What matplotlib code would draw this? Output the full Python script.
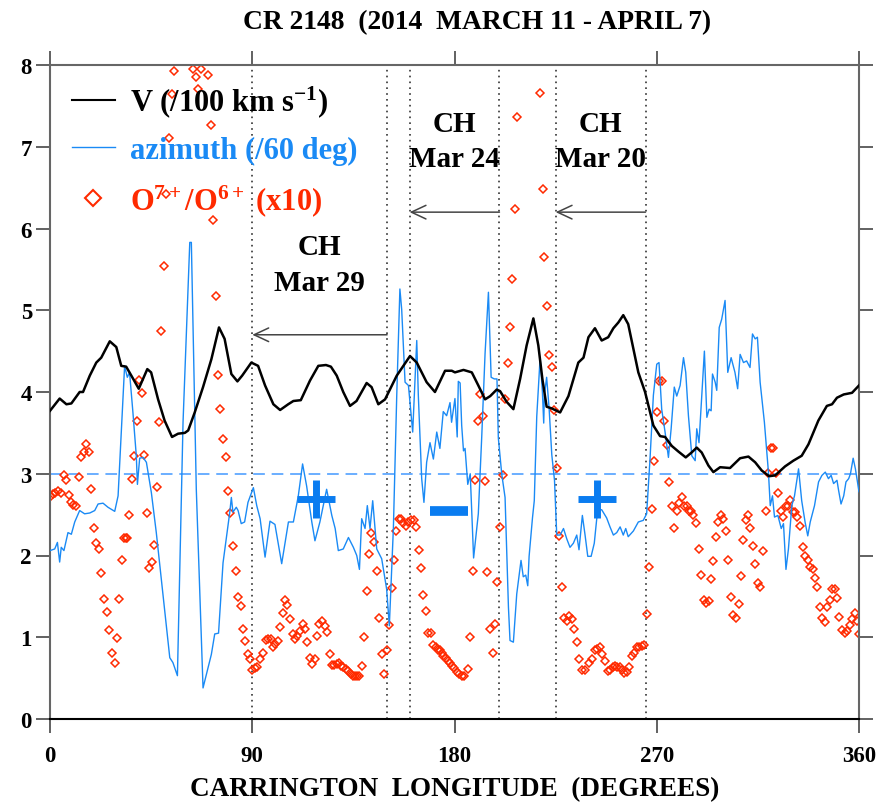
import matplotlib
matplotlib.use("Agg")
import matplotlib.pyplot as plt
from matplotlib.lines import Line2D

plt.rcParams['font.family'] = ['Liberation Serif', 'DejaVu Serif']
plt.rcParams['font.weight'] = 'bold'
plt.rcParams['axes.labelweight'] = 'bold'
plt.rcParams['mathtext.fontset'] = 'custom'
plt.rcParams['mathtext.rm'] = 'Liberation Serif:bold'
plt.rcParams['mathtext.it'] = 'Liberation Serif:bold'
plt.rcParams['mathtext.bf'] = 'Liberation Serif:bold'

# solar wind speed (/100 km/s)
v_lon = [0, 4.3, 7.3, 9.5, 13.2, 14.7, 17.7, 20.6, 22.8, 26.6, 29.5, 31.7, 33.9, 36.2, 39.5, 41.4,
         43.3, 45, 48.1, 51, 54.3, 57, 60, 61.5, 64.4, 68.1, 71.8, 75.2, 77.7, 80.7, 83.4, 85.5,
         89.6, 92.6, 95.7, 99.4, 102.4, 106, 108.3, 111.6, 115.7, 119.4, 122.8, 125, 127.6, 130.5,
         133.5, 136.4, 140.9, 143.1, 146.1, 149.1, 154.3, 160.2, 163.2, 167.6, 171.3, 175.8, 178.8,
         180.2, 184, 187.7, 190.6, 193.6, 195.9, 198.8, 200.3, 203.2, 206.2, 209.2, 212.1, 215.1,
         217.3, 219.1, 221, 223.2, 227, 230.7, 235.1, 237.4, 239.6, 242.5, 245.5, 248.4, 250.7,
         252.9, 255.1, 257.3, 261.8, 264.8, 268.5, 271.5, 273.7, 276.7, 279.7, 282.9, 285.5, 287.8,
         290, 293, 295.2, 298.2, 302.6, 307.1, 310.8, 313.8, 316.7, 320, 322.7, 327.1, 330.8, 334.5,
         337.5, 341.9, 345.7, 348, 350.2, 353.2, 356.9, 360]
v_val = [3.77, 3.92, 3.85, 3.86, 4.0, 4.0, 4.2, 4.36, 4.42, 4.62, 4.55, 4.32, 4.31, 4.2, 4.04, 4.16,
         4.28, 4.24, 3.91, 3.65, 3.45, 3.49, 3.50, 3.53, 3.75, 4.06, 4.40, 4.79, 4.65, 4.22, 4.13, 4.2,
         4.36, 4.32, 4.08, 3.85, 3.78, 3.85, 3.89, 3.90, 4.14, 4.32, 4.33, 4.31, 4.2, 4.0,
         3.83, 3.89, 4.11, 4.06, 3.85, 3.91, 4.2, 4.44, 4.36, 4.12, 4.0, 4.26, 4.26,
         4.24, 4.27, 4.24, 4.08, 3.91, 3.95, 4.03, 4.01, 3.88, 3.79, 4.16, 4.57, 4.90,
         4.57, 4.16, 3.82, 3.80, 3.75, 3.95, 4.36, 4.42, 4.67, 4.78, 4.63, 4.67, 4.78,
         4.85, 4.94, 4.83, 4.24, 4.0, 3.59, 3.46, 3.45, 3.34, 3.27, 3.20, 3.26, 3.32,
         3.26, 3.10, 3.02, 3.08, 3.07, 3.19, 3.21, 3.14, 3.04, 2.97, 2.98, 3.09, 3.16, 3.22,
         3.36, 3.65, 3.83, 3.85, 3.93, 3.97, 3.99, 4.08]

# magnetic field azimuth (/60 deg)
az_lon = [0, 2.1, 3.3, 4.3, 5.0, 6.2, 8.0, 9.5, 11, 13.2, 15.4, 17.7, 19.9, 21.4, 23.6, 25.8, 28.8,
          30.3, 33.2, 34.4, 35.4, 36.9, 38.4, 38.9, 39.9, 41.4, 42.9, 45.1, 47.3, 50.3, 53.3, 54.7,
          56.7, 59.2, 62.2, 62.9, 65.1, 68.1, 71.8, 73.3, 75, 77, 80, 80.7, 81.4, 82.9, 83.7, 85.1,
          86.6, 88.1, 90.5, 92, 93.5, 95.7, 97.9, 100.1, 103.1, 106.1, 108.3, 110.5, 112.4, 114.2,
          116.5, 117.9, 120.1, 123.1, 125.4, 126.9, 128.3, 130.5, 132.8, 135, 136.5, 137.7, 138.7,
          140.2, 141.2, 142.4, 143.6, 145.4, 147.6, 149.8, 151, 152.8, 154.3, 155.7, 156.5, 158,
          159.5, 161.4, 163.2, 163.9, 165.4, 166.4, 167.6, 169.1, 170.6, 172.1, 173.5, 175, 176.5,
          178, 178.7, 180.2, 181.2, 181.7, 182.5, 183.2, 184, 184.7, 185.9, 187, 188.5, 189.6,
          190.6, 192.1, 193.6, 195.1, 196.3, 197.7, 198.9, 199.5, 201, 202.5, 204, 204.7, 206.2,
          207.7, 209.6, 210.6, 211.7, 212.6, 213.2, 214.7, 215.5, 216.6, 218.1, 219.1, 219.7, 220,
          221, 222.1, 223.3, 224.5, 225.5, 227, 228.5, 230, 231.4, 232.9, 234.4, 235.4, 236.9,
          238.1, 239.3, 240.8, 242.2, 243.7, 245.5, 247.7, 249.2, 250.7, 252.2, 253.7, 255.1,
          256.2, 257.3, 259.6, 261.8, 264, 265.5, 267, 268.5, 270, 271, 272.2, 273.7, 275.2,
          276.4, 277.8, 278.9, 280.4, 281.9, 282.9, 284.1, 285.6, 287.1, 287.8, 288.8, 290, 291.2,
          292.3, 293.3, 294.2, 294.8, 296, 296.7, 297.8, 298.9, 300.4, 301.6, 303.1, 304.8, 306,
          307.1, 308.6, 310, 311.5, 312.6, 313.8, 314.8, 316, 317.9, 319.7, 320.5, 321.5, 322.4,
          323.9, 325.4, 326.4, 327.5, 328.6, 330.1, 331.3, 333.1, 334.5, 336, 337.2, 338.3, 340.2,
          342, 343.5, 345, 346.4, 347.6, 348.7, 350.2, 350.9, 352, 353.2, 354.2, 355.4, 356.2,
          357.4, 358.4, 360]
az_val = [2.06, 2.08, 2.16, 1.92, 2.10, 2.06, 2.28, 2.26, 2.41, 2.55, 2.51, 2.52, 2.55, 2.63, 2.64, 2.59, 2.54,
          2.73, 4.32, 4.18, 4.24, 3.75, 3.22, 2.87, 3.19, 3.20, 3.14, 2.77, 2.28, 1.51, 0.75, 0.69,
          0.53, 3.63, 5.83, 5.83, 2.81, 0.38, 0.79, 1.04, 1.05, 1.91, 2.53, 2.71, 2.53, 2.59, 2.55, 2.39,
          2.41, 2.65, 2.83, 2.61, 2.45, 1.98, 2.42, 2.38, 1.90, 2.41, 2.41, 2.73, 3.12, 2.85,
          2.41, 2.18, 2.41, 2.81, 2.49, 2.33, 2.06, 2.08, 2.22, 2.10, 2.00, 1.83, 2.45,
          2.33, 2.61, 2.33, 2.67, 2.08, 1.96, 1.59, 1.14, 2.33, 3.96, 5.26, 5.01, 4.12,
          4.08, 3.51, 4.63, 3.96, 2.94, 2.65, 3.14, 3.38, 3.18, 3.51, 3.31, 3.76, 3.71,
          3.87, 3.63, 3.92, 3.45, 4.13, 4.11, 3.59, 3.28, 3.31, 2.87, 3.0, 1.97, 2.25,
          2.51, 3.44, 4.47, 5.22, 4.18, 4.16, 4.16, 3.44, 3.0, 2.71, 1.37, 0.96, 0.94,
          1.53, 1.94, 1.74, 1.76, 1.63, 1.99, 2.46, 2.67, 3.70, 4.42, 4.01, 3.62, 3.96,
          4.18, 3.80, 3.23, 2.92, 2.25, 2.25, 2.33, 2.20, 2.10, 2.15, 2.25, 2.07, 2.49,
          2.25, 1.99, 1.99, 2.15, 2.56, 2.56, 2.46, 2.35, 2.25, 2.28, 2.35, 2.25,
          2.33, 2.23, 2.30, 2.41, 2.43, 2.51, 3.18, 3.96, 4.34, 4.36, 3.79, 3.51, 3.20,
          3.55, 4.06, 3.95, 4.08, 4.42, 4.24, 3.71, 3.22, 3.16, 3.55, 3.38, 3.95, 4.50,
          3.69, 3.79, 3.77, 4.22, 4.12, 4.02, 4.79, 4.89, 5.12, 4.24, 4.42, 4.24, 4.04,
          4.46, 4.36, 4.38, 4.30, 4.71, 4.65, 4.67, 4.12, 3.63, 3.02, 2.61, 2.73, 2.47,
          2.49, 2.33, 2.39, 1.83, 2.08, 2.61, 2.73, 3.06, 2.67, 2.41, 2.24, 2.41, 2.61,
          2.90, 2.98, 3.02, 2.94, 2.98, 2.88, 2.92, 2.80, 2.63, 2.73, 2.90, 2.94, 3.00,
          3.19, 3.06, 2.78]

# O7+/O6+ ratio (x10)
o_lon = [0.3, 1.3, 2.4, 3.6, 5.0, 6.2, 7.3, 8.3, 9.5, 10.2, 11.7, 12.8, 14.0, 15.0, 16.2, 17.2, 18.4,
         19.4, 20.6, 21.7, 22.8, 24.0, 25.2, 26.4, 27.6, 28.8, 29.8, 30.9, 32.0, 32.9, 34.0, 34.4,
         35.3, 36.5, 37.5, 38.6, 39.8, 40.9, 42.0, 43.0, 44.1, 45.2, 46.3, 47.5, 48.5, 49.6, 50.6,
         51.5, 52.9, 54.1, 55.2, 63.8, 65.0, 66.0, 67.2, 70.5, 71.5, 72.7, 73.7, 74.8, 75.8, 77.1,
         78.2, 79.2, 80.3, 81.6, 82.6, 83.7, 84.9, 85.9, 86.9, 88.0, 89.0, 89.9, 91.1, 92.3, 93.6,
         94.7, 95.9, 97.1, 98.2, 99.4, 100.2, 101.3, 102.4, 103.5, 104.6, 105.6, 106.8, 108.0,
         109.0, 110.1, 111.3, 112.5, 113.5, 114.5, 115.7, 116.7, 117.8, 119.0, 119.9, 121.2,
         122.2, 123.4, 124.6, 125.4, 126.5, 127.6, 128.6, 129.5, 130.5, 131.6, 132.8, 133.8,
         134.7, 135.7, 136.8, 137.7, 138.7, 139.7, 140.9, 142.0, 143.0, 144.0, 145.4, 146.4,
         147.6, 148.6, 149.8, 150.9, 152.1, 153.1, 154.1, 155.3, 156.1, 157.2, 158.4, 159.5,
         160.7, 161.9, 162.9, 164.1, 165.1, 166.1, 167.2, 168.4, 169.4, 170.6, 171.6, 172.5,
         173.6, 174.3, 175.0, 176.1, 177.0, 178.0, 178.9, 179.8, 181.0, 182.0, 183.2, 184.4,
         185.9, 186.9, 188.1, 189.3, 190.3, 191.5, 192.6, 193.6, 194.6, 195.8, 197.0, 198.0,
         199.1, 200.3, 201.5, 202.5, 203.7, 204.7, 205.7, 206.9, 208.0, 218.1, 219.2, 220.0,
         221.2, 222.2, 223.3, 224.3, 225.5, 226.5, 227.7, 228.8, 229.9, 231.1, 232.2, 233.2,
         234.4, 235.6, 236.6, 238.1, 239.9, 241.1, 242.5, 243.6, 244.8, 245.8, 247.0, 248.2,
         249.2, 250.4, 251.4, 252.5, 253.7, 254.7, 255.6, 256.6, 257.7, 258.9, 259.9, 261.1,
         262.2, 263.3, 264.3, 265.5, 266.7, 267.7, 268.9, 269.9, 271.0, 272.2, 273.4, 274.4,
         275.6, 276.6, 277.7, 278.9, 279.9, 281.1, 282.2, 283.3, 284.4, 285.3, 286.3, 287.5,
         288.7, 289.9, 290.9, 292.0, 293.1, 294.2, 295.2, 296.4, 297.4, 298.6, 299.6, 300.7,
         301.9, 303.1, 304.1, 305.2, 306.4, 307.4, 308.4, 309.5, 310.7, 311.7, 312.9, 313.9,
         315.0, 316.1, 317.2, 318.5, 319.7, 320.7, 321.9, 322.9, 324.0, 325.2, 326.2, 327.3,
         328.3, 329.5, 330.5, 331.6, 332.6, 333.8, 335.0, 336.0, 337.1, 338.2, 339.4, 340.4,
         341.5, 342.7, 343.7, 344.9, 345.9, 347.1, 348.2, 349.2, 350.3, 351.3, 352.5, 353.6,
         354.8, 355.8, 357.0, 358.2, 359.2, 360.0]
o_val = [2.73, 2.75, 2.77, 2.79, 2.77, 2.98, 2.92, 2.74, 2.66, 2.62, 2.60, 2.96, 3.20, 3.26, 3.37, 3.26, 2.81,
         2.34, 2.15, 2.08, 1.78, 1.47, 1.31, 1.09, 0.81, 0.68, 0.99, 1.47, 1.94, 2.22, 2.22, 2.22,
         2.50, 2.93, 3.22, 3.64, 4.15, 3.99, 3.23, 2.52, 1.85, 1.92, 2.13, 2.84, 3.63, 4.75, 5.54,
         6.42, 7.11, 7.64, 7.93, 7.95, 7.85, 7.71, 7.95, 7.88, 7.26, 6.10, 5.18, 4.21, 3.79, 3.42,
         3.20, 2.79, 2.52, 2.12, 1.81, 1.49, 1.38, 1.10, 0.95, 0.80, 0.73, 0.60, 0.62, 0.64, 0.73,
         0.81, 0.97, 0.98, 0.98, 0.88, 0.92, 0.96, 1.12, 1.30, 1.46, 1.40, 1.22, 1.04,
         0.98, 1.01, 1.08, 1.16, 1.10, 0.94, 0.75, 0.67, 0.73, 1.02, 1.16, 1.20,
         1.14, 1.06, 0.80, 0.66, 0.66, 0.67, 0.69, 0.65, 0.63, 0.61, 0.59, 0.55,
         0.52, 0.52, 0.52, 0.52, 0.65, 1.00, 1.57, 2.02, 2.28, 2.16, 1.81, 1.24,
         0.80, 0.55, 0.84, 1.15, 1.60, 1.94, 2.30, 2.45, 2.45, 2.40, 2.36, 2.41,
         2.43, 2.43, 2.35, 2.07, 1.85, 1.52, 1.32, 1.05, 1.05, 0.91, 0.88, 0.84,
         0.84, 0.81, 0.77, 0.75, 0.71, 0.68, 0.65, 0.62, 0.58, 0.55, 0.52, 0.52,
         0.61, 1.00, 1.81, 2.92, 3.65, 3.97, 3.71, 2.91, 1.80, 1.10, 0.81, 1.16,
         1.68, 2.35, 2.98, 3.92, 4.36, 4.80, 5.38, 6.24, 7.37, 7.66, 6.48, 5.65,
         5.05, 4.45, 4.30, 3.78, 3.07, 2.24, 1.61, 1.23, 1.20, 1.26, 1.22, 1.10,
         0.94, 0.74, 0.60, 0.60, 0.69, 0.74, 0.85, 0.86, 0.88, 0.79, 0.71, 0.59,
         0.60, 0.64, 0.65, 0.64, 0.64, 0.60, 0.56, 0.58, 0.63, 0.77, 0.81, 0.88,
         0.88, 0.89, 0.90, 1.28, 1.86, 2.57, 3.15, 3.76, 4.13, 4.13, 3.65, 3.35,
         2.90, 2.60, 2.34, 2.54, 2.64, 2.71, 2.60, 2.60, 2.55, 2.54, 2.50, 2.40,
         2.08, 1.76, 1.46, 1.42, 1.44, 1.71, 1.93, 2.23, 2.41, 2.50, 2.45, 2.30,
         1.95, 1.49, 1.27, 1.23, 1.41, 1.75, 2.19, 2.44, 2.50, 2.34, 2.12, 1.90,
         1.66, 1.62, 2.05, 2.54, 3.01, 3.31, 3.31, 3.01, 2.76, 2.54, 2.47, 2.61,
         2.61, 2.68, 2.53, 2.53, 2.47, 2.36, 2.10, 1.99, 1.95, 1.86, 1.84, 1.72,
         1.62, 1.37, 1.24, 1.19, 1.37, 1.45, 1.59, 1.59, 1.48, 1.25, 1.09, 1.05,
         1.08, 1.15, 1.22, 1.30, 1.20, 1.04]

# coronal hole boundaries and labels
ch_lines = [90, 150, 160, 200, 225, 265]
ch_arrows = [(150, 90, 4.70), (200, 160, 6.20), (265, 225, 6.20)]
ch_labels = ["CH\nMar 29", "CH\nMar 24", "CH\nMar 20"]
ch_label_pos = [(120, 5.56), (180, 7.07), (245, 7.07)]
pol_signs = ["+", "-", "+"]
pol_pos = [(118.5, 2.69), (177.5, 2.55), (243.5, 2.69)]

black = 'black'
blue = '#1a8af5'
red = '#ff2a00'

fig = plt.figure(figsize=(8.83, 8.04), dpi=100)
ax = fig.add_axes([50/883, 1-720/804, 809/883, 654/804])

for xl in ch_lines:
    ax.axvline(xl, color='#333333', ls=(0, (1, 2.5)), lw=1.2, zorder=1)
ax.axhline(3, color='#6aaeff', ls=(0, (6, 3.5)), lw=1.4, zorder=1)

ax.plot(o_lon, o_val, ls='none', marker='D', ms=3.8, mfc='none', mec=red, mew=1.1, zorder=2)
ax.plot(az_lon, az_val, color=blue, lw=1.0, zorder=3)
ax.plot(v_lon, v_val, color=black, lw=1.8, zorder=4)

for x0, x1, yy in ch_arrows:
    ax.annotate('', xy=(x1, yy), xytext=(x0, yy),
                arrowprops=dict(arrowstyle='->,head_length=0.75,head_width=0.35',
                                color='#444444', lw=1.1, mutation_scale=14,
                                shrinkA=0, shrinkB=0))
for lab, (lx, ly) in zip(ch_labels, ch_label_pos):
    ax.text(lx, ly, lab, ha='center', va='center', fontsize=21, fontweight='bold',
            linespacing=1.4)

for s, (px, py) in zip(pol_signs, pol_pos):
    mk = '+' if s == '+' else '_'
    ax.plot([px], [py], marker=mk, ms=27, mew=5 if s == '+' else 7, color='#0a7cf0',
            ls='none', zorder=5)

ax.set_xlim(0, 360)
ax.set_ylim(0, 8)
ax.set_xticks([0, 90, 180, 270, 360])
ax.set_yticks(range(0, 9))
ax.tick_params(direction='out', length=10, width=1.3, color='#555555',
               top=True, right=True, labelsize=16.5, pad=3)
ax.tick_params(axis='x', pad=9)
for t in ax.get_xticklabels() + ax.get_yticklabels():
    t.set_fontweight('bold')
for sp in ax.spines.values():
    sp.set_color('#666666')
    sp.set_linewidth(1.5)
ax.spines['bottom'].set_color('black')

ax.set_xlabel('CARRINGTON  LONGITUDE  (DEGREES)', fontsize=19.5, fontweight='bold', labelpad=7)
fig.text(0.540, 0.972, 'CR 2148  (2014  MARCH 11 - APRIL 7)', ha='center', va='center',
         fontsize=19.8, fontweight='bold')

handles = [Line2D([], [], color=black, lw=1.5),
           Line2D([], [], color=blue, lw=1.0),
           Line2D([], [], ls='none', marker='D', ms=8, mfc='none', mec=red, mew=1.5)]
labels = [r'V (/100 km s$^{-1}$)', 'azimuth (/60 deg)', r'O$^{7+}$/O$^{6+}$ (x10)']
leg = ax.legend(handles, labels, loc='upper left', bbox_to_anchor=(0.027, 0.972),
                frameon=False, handlelength=1.4, handletextpad=0.5,
                labelspacing=0.55, borderpad=0, borderaxespad=0,
                prop={'size': 22, 'weight': 'bold'})
leg.set_zorder(10)
for t, c in zip(leg.get_texts(), [black, blue, red]):
    t.set_color(c)

fig.savefig('out.png', dpi=100)
